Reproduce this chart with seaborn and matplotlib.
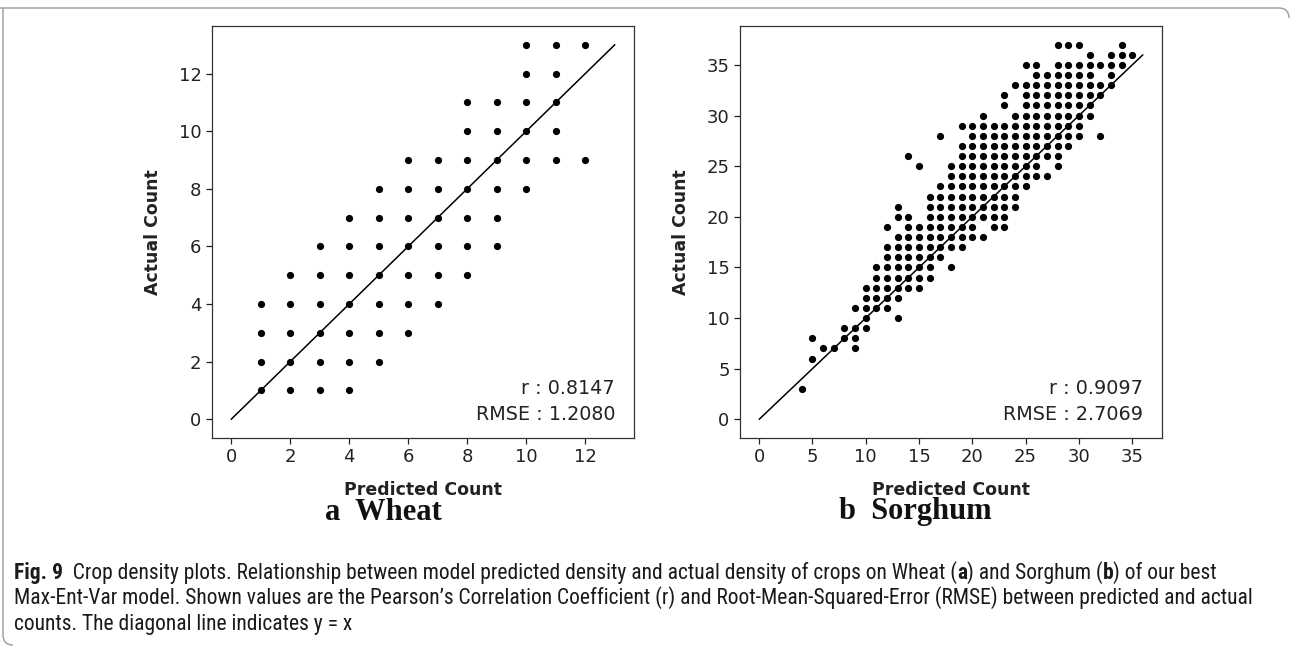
import os
import numpy as np
import pandas as pd
import matplotlib
matplotlib.use("Agg")
import matplotlib.pyplot as plt
import seaborn as sns
from matplotlib import font_manager
from matplotlib.font_manager import FontProperties
from matplotlib.path import Path
from matplotlib.patches import PathPatch

# ---------------- data ----------------
wheat_pred_levels = [1, 2, 3, 4, 5, 6, 7, 8, 9, 10, 11, 12]
wheat_actual_by_pred = [
    [1, 2, 3, 4],
    [1, 2, 3, 4, 5],
    [1, 2, 3, 4, 5, 6],
    [1, 2, 3, 4, 5, 6, 7],
    [2, 3, 4, 5, 6, 7, 8],
    [3, 4, 5, 6, 7, 8, 9],
    [4, 5, 6, 7, 8, 9],
    [5, 6, 7, 8, 9, 10, 11],
    [6, 7, 8, 9, 10, 11],
    [8, 9, 10, 11, 12, 13],
    [9, 10, 11, 12, 13],
    [9, 13],
]
wheat_diag = [0, 13]
wheat_ticks = [0, 2, 4, 6, 8, 10, 12]
wheat_stats = "r : 0.8147\nRMSE : 1.2080"

sorghum_actual_levels = [37, 36, 35, 34, 33, 32, 31, 30, 29, 28, 27, 26, 25,
                         24, 23, 22, 21, 20, 19, 18, 17, 16, 15, 14, 13, 12,
                         11, 10, 9, 8, 7, 6, 3]
sorghum_pred_by_actual = [
    [28, 29, 30, 34],
    [31, 33, 34, 35],
    [25, 26, 28, 29, 30, 31, 32, 33, 34],
    [26, 27, 28, 29, 30, 31, 33],
    [24, 25, 26, 27, 28, 29, 30, 31, 32, 33],
    [23, 25, 26, 27, 28, 29, 30, 31, 32],
    [23, 25, 26, 27, 28, 29, 30, 31],
    [21, 24, 25, 26, 27, 28, 29, 30, 31],
    [19, 20, 21, 22, 23, 24, 25, 26, 27, 28, 29, 30],
    [17, 20, 21, 22, 23, 24, 25, 26, 27, 28, 29, 30, 32],
    [19, 20, 21, 22, 23, 24, 25, 26, 27, 28, 29],
    [14, 19, 20, 21, 22, 23, 24, 25, 26, 27, 28],
    [15, 18, 19, 20, 21, 22, 23, 24, 25, 26, 28],
    [18, 19, 20, 21, 22, 23, 24, 25, 26, 27],
    [17, 18, 19, 20, 21, 22, 23, 24, 25],
    [16, 17, 18, 19, 20, 21, 22, 23, 24],
    [13, 16, 17, 18, 19, 20, 21, 22, 23, 24],
    [13, 14, 16, 17, 18, 19, 20, 21, 22, 23],
    [12, 14, 15, 16, 17, 18, 19, 20, 22, 23],
    [13, 14, 15, 16, 17, 18, 19, 20, 21],
    [12, 13, 14, 15, 16, 17, 18, 19],
    [12, 13, 14, 15, 16, 17],
    [11, 12, 13, 14, 15, 16, 18],
    [11, 12, 13, 14, 15, 16],
    [10, 11, 12, 13, 14, 15],
    [10, 11, 12, 13],
    [9, 10, 11, 12],
    [10, 13],
    [8, 9, 10],
    [5, 8, 9],
    [6, 7, 9],
    [5],
    [4],
]
sorghum_diag = [0, 36]
sorghum_ticks = [0, 5, 10, 15, 20, 25, 30, 35]
sorghum_stats = "r : 0.9097\nRMSE : 2.7069"

panel_titles = ["a  Wheat", "b  Sorghum"]
x_label = "Predicted Count"
y_label = "Actual Count"

caption_lines = [
    [("Fig. 9", True), ("  Crop density plots. Relationship between model predicted density and actual density of crops on Wheat (", False),
     ("a", True), (") and Sorghum (", False), ("b", True), (") of our best", False)],
    [("Max-Ent-Var model. Shown values are the Pearson\u2019s Correlation Coefficient (r) and Root-Mean-Squared-Error (RMSE) between predicted and actual", False)],
    [("counts. The diagonal line indicates y = x", False)],
]
caption_targets = [1241, 1239, None]

# ---------------- build tables ----------------
wheat_df = pd.DataFrame(
    [(p, a) for p, col in zip(wheat_pred_levels, wheat_actual_by_pred) for a in col],
    columns=["pred", "actual"])
sorghum_df = pd.DataFrame(
    [(p, a) for a, row in zip(sorghum_actual_levels, sorghum_pred_by_actual) for p in row],
    columns=["pred", "actual"])

# ---------------- style ----------------
sns.set_theme(style="ticks")
plt.rcParams["font.family"] = ["DejaVu Sans"]
plt.rcParams["axes.linewidth"] = 0.9

W, H = 1293, 647
fig = plt.figure(figsize=(W / 100, H / 100), dpi=100)


def has_font(name):
    try:
        font_manager.findfont(FontProperties(family=name), fallback_to_default=False)
        return True
    except Exception:
        return False


def weight_num(w):
    if isinstance(w, (int, float)):
        return int(w)
    return int(font_manager.weight_dict.get(str(w), 400))


def find_condensed():
    """Return (regular_path, bold_path) of a condensed sans font, or None."""
    prefs = ["liberation sans narrow", "noto sans", "open sans", "roboto",
             "dejavu sans", "lato", "inter", "liberation sans"]
    found = {}
    for f in font_manager.fontManager.ttflist:
        name = f.name.lower()
        fn = os.path.basename(f.fname).lower()
        if f.style != "normal":
            continue
        if "mono" in name or "mono" in fn or "cjk" in name or "display" in fn:
            continue
        st = str(f.stretch).lower()
        is_cond = ("narrow" in name or "narrow" in fn or
                   ("condensed" in fn and "semi" not in fn and "extra" not in fn and "ultra" not in fn) or
                   ("condensed" in name and "semi" not in name and "extra" not in name) or
                   st == "condensed")
        if not is_cond:
            continue
        fam = None
        for p in prefs:
            if name.startswith(p):
                fam = p
                break
        if fam is None:
            continue
        w = weight_num(f.weight)
        slot = found.setdefault(fam, {})
        if 350 <= w <= 450:
            slot.setdefault("reg", f.fname)
        if 650 <= w <= 750:
            slot.setdefault("bold", f.fname)
    for p in prefs:
        if p in found and "reg" in found[p]:
            reg = found[p]["reg"]
            return reg, found[p].get("bold", reg)
    return None


cond = find_condensed()
if cond is not None:
    cap_reg = FontProperties(fname=cond[0])
    cap_bold = FontProperties(fname=cond[1])
    if cond[1] == cond[0]:
        cap_bold = FontProperties(fname=cond[0], weight="bold")
else:
    fam = "Liberation Sans" if has_font("Liberation Sans") else "DejaVu Sans"
    cap_reg = FontProperties(family=fam)
    cap_bold = FontProperties(family=fam, weight="bold")
serif_family = "Liberation Serif" if has_font("Liberation Serif") else "DejaVu Serif"


def make_axes(left_px, right_px, top_px, bottom_px):
    return fig.add_axes([left_px / W, 1 - bottom_px / H,
                         (right_px - left_px) / W, (bottom_px - top_px) / H])


ax1 = make_axes(212, 634, 26, 438)
ax2 = make_axes(740, 1162, 26, 438)

for ax, df, diag, ticks, stats in [
    (ax1, wheat_df, wheat_diag, wheat_ticks, wheat_stats),
    (ax2, sorghum_df, sorghum_diag, sorghum_ticks, sorghum_stats),
]:
    sns.scatterplot(data=df, x="pred", y="actual", ax=ax, color="black",
                    s=27, linewidth=0, legend=False, zorder=3)
    sns.lineplot(x=diag, y=diag, ax=ax, color="black", linewidth=1.1, zorder=2)
    ax.set_xticks(ticks)
    ax.set_yticks(ticks)
    ax.tick_params(labelsize=13, length=4, width=0.9, colors="#222222")
    ax.set_xlabel(x_label, fontsize=12.5, fontweight="bold", color="#222222")
    ax.set_ylabel(y_label, fontsize=12.5, fontweight="bold", color="#222222")
    ax.xaxis.set_label_coords(0.5, -0.105)
    ax.yaxis.set_label_coords(-0.118, 0.5)
    ax.text(0.955, 0.035, stats, transform=ax.transAxes, ha="right", va="bottom",
            multialignment="right", fontsize=13.8, linespacing=1.45, color="#222222")
    for s in ax.spines.values():
        s.set_color("#333333")

# panel titles
fig.text(383 / W, 1 - 512 / H, panel_titles[0], ha="center", va="center",
         fontsize=22, fontweight="bold", family=serif_family, color="#111111")
fig.text(915 / W, 1 - 512 / H, panel_titles[1], ha="center", va="center",
         fontsize=22, fontweight="bold", family=serif_family, color="#111111")

# caption
renderer = fig.canvas.get_renderer()


def draw_line(segs, x0, y0, size, draw=True):
    x = x0
    made = []
    for txt, bold in segs:
        fp = (cap_bold if bold else cap_reg).copy()
        fp.set_size(size)
        t = fig.text(x / W, 1 - y0 / H, txt, fontproperties=fp, ha="left",
                     va="baseline", color="#1a1a1a")
        bb = t.get_window_extent(renderer)
        x += bb.width
        made.append(t)
    if not draw:
        for t in made:
            t.remove()
    return x - x0


base = 12.0
scales = []
for segs, tgt in zip(caption_lines, caption_targets):
    if tgt is None:
        continue
    w0 = draw_line(segs, 14, 578, base, draw=False)
    scales.append(tgt / w0)
cap_size = min(base * min(scales), 16)
baselines = [579, 604, 630]
for segs, yb in zip(caption_lines, baselines):
    draw_line(segs, 14, yb, cap_size)

# frame (light grey rule with rounded corners)
fc = "#9a9a9a"
top = Path([(0, 1 - 8 / H), ((W - 14) / W, 1 - 8 / H),
            ((W - 4) / W, 1 - 8 / H), ((W - 4) / W, 1 - 18 / H)],
           [Path.MOVETO, Path.LINETO, Path.CURVE3, Path.CURVE3])
left = Path([(3 / W, 1 - 8 / H), (3 / W, 1 - (H - 12) / H),
             (3 / W, 1 - (H - 2) / H), (13 / W, 1 - (H - 2) / H)],
            [Path.MOVETO, Path.LINETO, Path.CURVE3, Path.CURVE3])
for p in (top, left):
    fig.add_artist(PathPatch(p, transform=fig.transFigure, fill=False,
                             edgecolor=fc, linewidth=1.0))

fig.savefig("out.png", dpi=100)
